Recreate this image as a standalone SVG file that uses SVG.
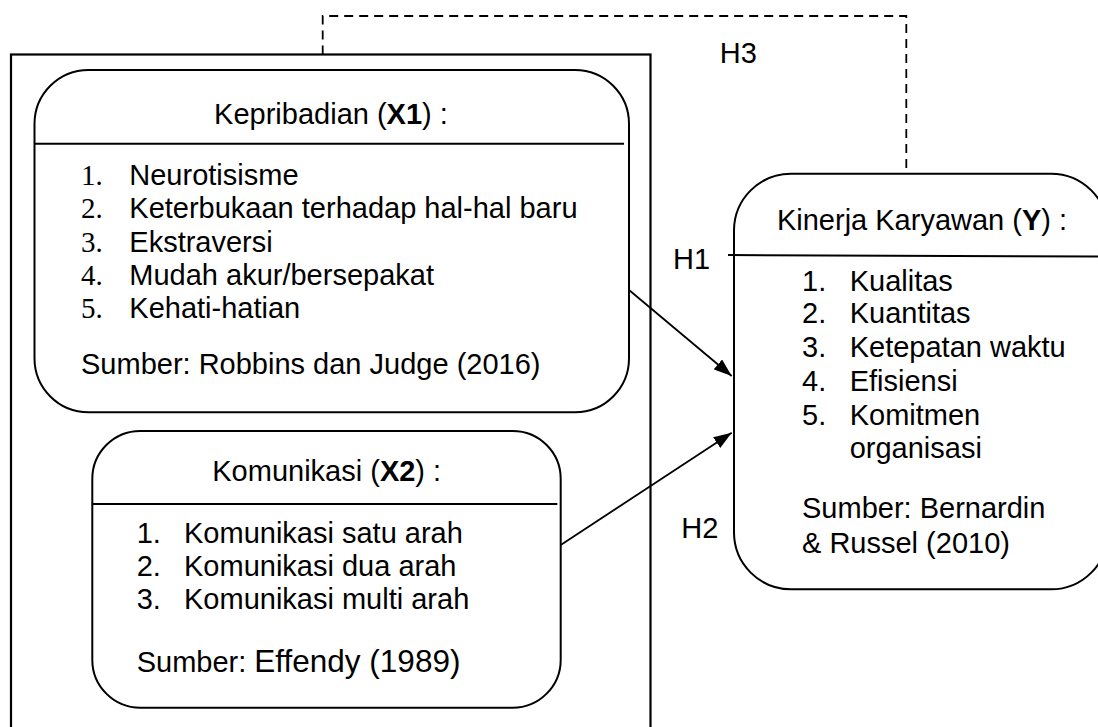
<svg xmlns="http://www.w3.org/2000/svg" width="1098" height="727" viewBox="0 0 1098 727">
  <defs>
    <marker id="arrow" markerUnits="userSpaceOnUse" markerWidth="19" markerHeight="13" refX="18" refY="6.5" orient="auto">
      <path d="M0,0 L18,6.5 L0,13 z" fill="#000"/>
    </marker>
  </defs>
  <style>
    text { font-family: "Liberation Sans", Arial, sans-serif; font-size: 29px; fill: #000; }
    .num { font-family: "Liberation Serif", "Times New Roman", serif; }
    .box { fill: #fff; stroke: #000; stroke-width: 2; }
    .div { stroke: #000; stroke-width: 2; }
    .conn { stroke: #000; stroke-width: 1.8; fill: none; }
    .dash { stroke: #000; stroke-width: 1.8; fill: none; stroke-dasharray: 9 6; }
    .mid { text-anchor: middle; }
    .b { font-weight: bold; }
  </style>
  <rect width="1098" height="727" fill="#fff"/>

  <g id="outer-frame">
    <rect x="11" y="54.5" width="639.5" height="700" fill="none" stroke="#000" stroke-width="2.2"/>
  </g>

  <g id="node-x1">
    <rect class="box" x="34.5" y="70" width="594.5" height="342.3" rx="54" ry="54"/>
    <line class="div" x1="34.5" y1="143.8" x2="624" y2="143.8"/>
    <text class="mid" x="331" y="124">Kepribadian (<tspan class="b">X1</tspan>) :</text>
    <text class="num" x="81" y="185">1.</text>
    <text x="129.3" y="185">Neurotisisme</text>
    <text class="num" x="81" y="218.3">2.</text>
    <text x="129.3" y="218.3">Keterbukaan terhadap hal-hal baru</text>
    <text class="num" x="81" y="251.7">3.</text>
    <text x="129.3" y="251.7">Ekstraversi</text>
    <text class="num" x="81" y="285">4.</text>
    <text x="129.3" y="285">Mudah akur/bersepakat</text>
    <text class="num" x="81" y="318.3">5.</text>
    <text x="129.3" y="318.3">Kehati-hatian</text>
    <text x="81" y="374.3">Sumber: Robbins dan Judge (2016)</text>
  </g>

  <g id="node-x2">
    <rect class="box" x="92.3" y="431" width="468.4" height="276.7" rx="48" ry="48"/>
    <line class="div" x1="92.3" y1="504" x2="557.3" y2="504"/>
    <text class="mid" x="326.7" y="481">Komunikasi (<tspan class="b">X2</tspan>) :</text>
    <text x="136.7" y="542.7">1.</text>
    <text x="184" y="542.7">Komunikasi satu arah</text>
    <text x="136.7" y="576">2.</text>
    <text x="184" y="576">Komunikasi dua arah</text>
    <text x="136.7" y="609.3">3.</text>
    <text x="184" y="609.3">Komunikasi multi arah</text>
    <text x="136.7" y="671.7">Sumber: <tspan style="font-size:31.5px">Effendy (1989)</tspan></text>
  </g>

  <g id="node-y">
    <rect class="box" x="734" y="173.7" width="374" height="415.6" rx="57" ry="57"/>
    <line class="div" x1="728" y1="255" x2="1098" y2="256.5"/>
    <text class="mid" x="922" y="230">Kinerja Karyawan (<tspan class="b">Y</tspan>) :</text>
    <text x="802" y="290.7">1.</text>
    <text x="849.7" y="290.7">Kualitas</text>
    <text x="802" y="323.3">2.</text>
    <text x="849.7" y="323.3">Kuantitas</text>
    <text x="802" y="357.3">3.</text>
    <text x="849.7" y="357.3">Ketepatan waktu</text>
    <text x="802" y="390.7">4.</text>
    <text x="849.7" y="390.7">Efisiensi</text>
    <text x="802" y="425">5.</text>
    <text x="849.7" y="425">Komitmen</text>
    <text x="849.7" y="458.3">organisasi</text>
    <text x="802" y="518.3">Sumber: Bernardin</text>
    <text x="802" y="553.3">&amp; Russel (2010)</text>
  </g>

  <g id="connectors">
    <line class="conn" x1="629" y1="290" x2="731.7" y2="376" marker-end="url(#arrow)"/>
    <line class="conn" x1="560.7" y1="545" x2="731.7" y2="432.7" marker-end="url(#arrow)"/>
    <polyline class="dash" points="322.7,54.5 322.7,16 906.3,16 906.3,173.7"/>
  </g>

  <g id="labels">
    <text x="719.7" y="63.3">H3</text>
    <text x="673" y="269.3">H1</text>
    <text x="681.3" y="538.3">H2</text>
  </g>
</svg>
